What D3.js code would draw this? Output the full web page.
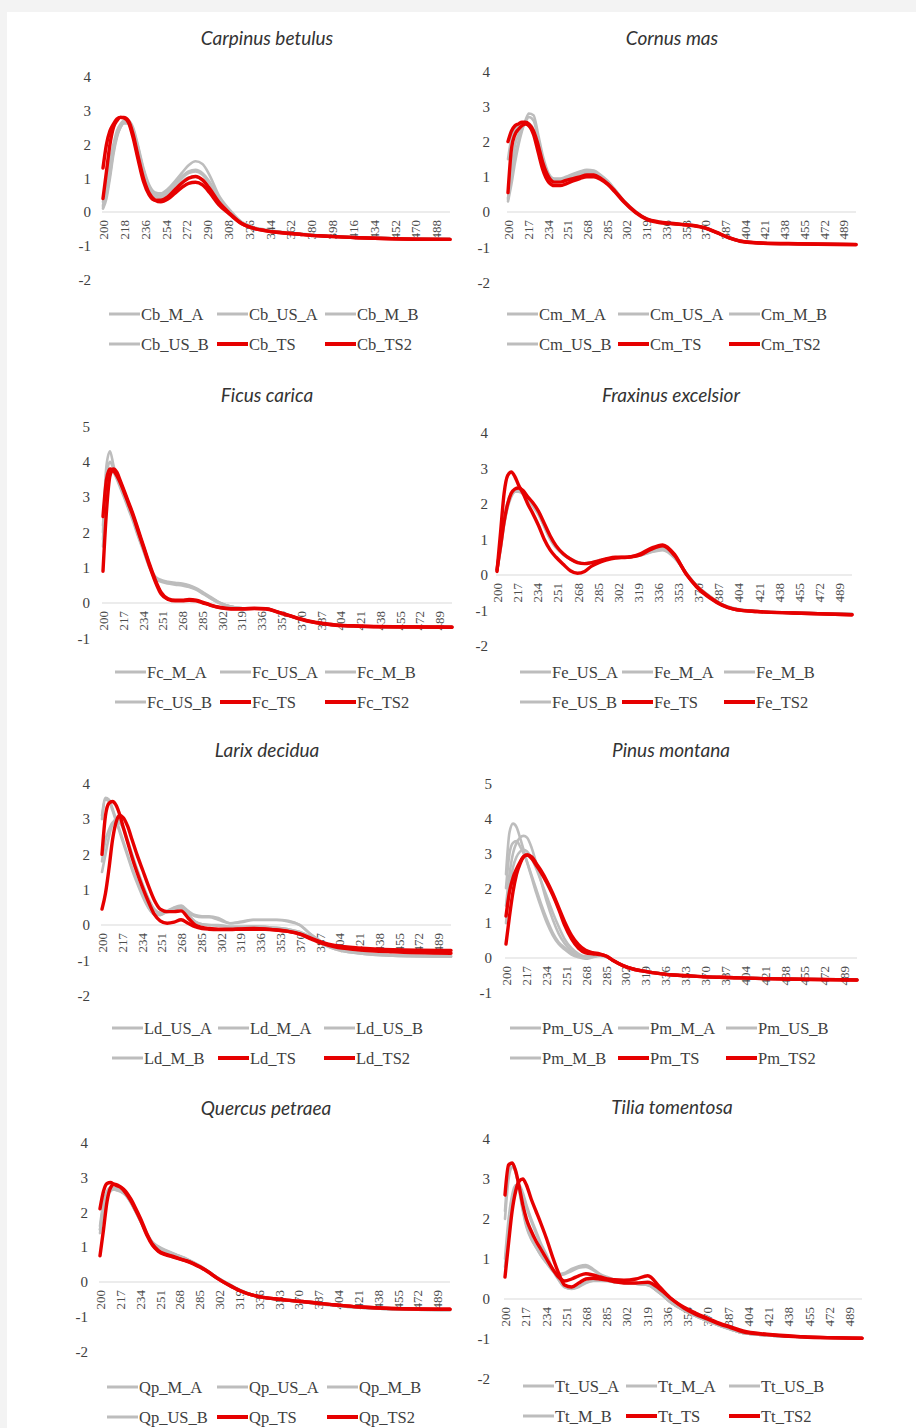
<!DOCTYPE html>
<html>
<head>
<meta charset="utf-8">
<script src="https://cdn.jsdelivr.net/npm/d3@7"></script>
<style>
  body { margin: 0; background: #f3f3f3; }
  svg { display: block; }
</style>
</head>
<body>
<svg id="chart" width="916" height="1428"></svg>
<script>
// sampled wavelengths (nm) shared by all spectra
const wavelengths = [200, 203, 206, 209, 212, 215, 218, 222, 226, 230, 235, 240, 245, 250, 256, 262, 268, 274, 280, 286, 292, 300, 310, 320, 330, 340, 350, 360, 370, 380, 390, 400, 420, 450, 500];

// Carpinus betulus
const Cb_M_A = [0.1, 0.4, 1.0, 1.7, 2.2, 2.5, 2.65, 2.7, 2.5, 2.0, 1.3, 0.8, 0.58, 0.55, 0.68, 0.9, 1.15, 1.38, 1.5, 1.42, 1.1, 0.5, 0.05, -0.3, -0.45, -0.52, -0.57, -0.61, -0.64, -0.67, -0.7, -0.72, -0.75, -0.78, -0.8];
const Cb_US_A = [0.2, 0.6, 1.3, 1.9, 2.3, 2.55, 2.68, 2.65, 2.4, 1.9, 1.2, 0.7, 0.5, 0.48, 0.6, 0.8, 1.0, 1.15, 1.2, 1.1, 0.85, 0.4, 0.0, -0.32, -0.46, -0.53, -0.58, -0.62, -0.65, -0.68, -0.7, -0.72, -0.75, -0.78, -0.8];
const Cb_M_B = [0.15, 0.5, 1.1, 1.8, 2.25, 2.5, 2.62, 2.62, 2.45, 1.95, 1.25, 0.75, 0.55, 0.52, 0.62, 0.85, 1.05, 1.2, 1.25, 1.15, 0.9, 0.42, 0.02, -0.31, -0.46, -0.53, -0.58, -0.62, -0.65, -0.68, -0.7, -0.72, -0.75, -0.78, -0.8];
const Cb_US_B = [0.3, 0.8, 1.5, 2.0, 2.4, 2.6, 2.7, 2.65, 2.35, 1.85, 1.15, 0.65, 0.45, 0.42, 0.52, 0.7, 0.9, 1.02, 1.05, 0.95, 0.72, 0.3, -0.05, -0.33, -0.47, -0.54, -0.59, -0.62, -0.65, -0.68, -0.7, -0.72, -0.75, -0.78, -0.8];
const Cb_TS = [1.3, 2.0, 2.4, 2.6, 2.75, 2.8, 2.78, 2.65, 2.2, 1.6, 0.9, 0.5, 0.35, 0.35, 0.45, 0.65, 0.85, 1.0, 1.05, 0.95, 0.7, 0.3, -0.05, -0.34, -0.48, -0.55, -0.6, -0.63, -0.66, -0.69, -0.71, -0.73, -0.76, -0.79, -0.81];
const Cb_TS2 = [0.4, 1.2, 2.0, 2.5, 2.7, 2.8, 2.8, 2.7, 2.3, 1.7, 1.0, 0.55, 0.35, 0.3, 0.38, 0.55, 0.72, 0.85, 0.88, 0.8, 0.58, 0.22, -0.08, -0.35, -0.48, -0.55, -0.6, -0.63, -0.66, -0.69, -0.71, -0.73, -0.76, -0.79, -0.81];

// Cornus mas
const Cm_M_A = [0.3, 0.8, 1.4, 1.9, 2.3, 2.6, 2.8, 2.75, 2.2, 1.6, 1.1, 0.95, 0.95, 1.0, 1.08, 1.15, 1.2, 1.18, 1.05, 0.88, 0.65, 0.32, 0.02, -0.2, -0.28, -0.32, -0.35, -0.38, -0.45, -0.58, -0.72, -0.82, -0.88, -0.9, -0.92];
const Cm_US_A = [0.35, 1.2, 1.9, 2.2, 2.4, 2.5, 2.5, 2.35, 1.9, 1.4, 1.0, 0.9, 0.9, 0.95, 1.02, 1.08, 1.12, 1.1, 1.0, 0.82, 0.62, 0.3, 0.0, -0.2, -0.28, -0.32, -0.35, -0.38, -0.45, -0.58, -0.72, -0.82, -0.88, -0.9, -0.92];
const Cm_M_B = [0.4, 1.0, 1.6, 2.0, 2.35, 2.55, 2.7, 2.6, 2.1, 1.5, 1.05, 0.92, 0.92, 0.98, 1.05, 1.1, 1.15, 1.12, 1.0, 0.85, 0.62, 0.3, 0.0, -0.21, -0.29, -0.33, -0.36, -0.39, -0.46, -0.59, -0.73, -0.83, -0.88, -0.9, -0.92];
const Cm_US_B = [1.5, 2.1, 2.35, 2.45, 2.5, 2.5, 2.45, 2.25, 1.8, 1.3, 0.95, 0.85, 0.87, 0.92, 1.0, 1.05, 1.1, 1.08, 0.98, 0.8, 0.6, 0.3, -0.01, -0.21, -0.29, -0.33, -0.36, -0.39, -0.46, -0.59, -0.73, -0.83, -0.89, -0.91, -0.93];
const Cm_TS = [2.0, 2.3, 2.45, 2.5, 2.55, 2.55, 2.5, 2.3, 1.9, 1.4, 1.0, 0.85, 0.85, 0.9, 0.95, 1.0, 1.05, 1.05, 0.95, 0.8, 0.6, 0.3, 0.0, -0.2, -0.28, -0.32, -0.35, -0.38, -0.45, -0.58, -0.72, -0.82, -0.88, -0.9, -0.92];
const Cm_TS2 = [0.55, 1.8, 2.2, 2.35, 2.45, 2.5, 2.45, 2.2, 1.7, 1.2, 0.85, 0.75, 0.75, 0.8, 0.88, 0.95, 1.0, 1.0, 0.92, 0.78, 0.58, 0.28, -0.02, -0.22, -0.3, -0.33, -0.36, -0.39, -0.46, -0.59, -0.73, -0.83, -0.89, -0.91, -0.93];

// Ficus carica
const Fc_M_A = [2.0, 3.9, 4.3, 3.9, 3.55, 3.3, 3.05, 2.7, 2.35, 1.95, 1.5, 1.05, 0.75, 0.65, 0.6, 0.57, 0.55, 0.5, 0.42, 0.3, 0.18, 0.02, -0.1, -0.15, -0.15, -0.16, -0.25, -0.35, -0.45, -0.53, -0.58, -0.62, -0.65, -0.67, -0.68];
const Fc_US_A = [1.8, 3.3, 3.8, 3.7, 3.5, 3.25, 3.0, 2.65, 2.3, 1.9, 1.45, 1.0, 0.7, 0.62, 0.57, 0.54, 0.52, 0.47, 0.4, 0.28, 0.15, 0.0, -0.11, -0.15, -0.15, -0.16, -0.25, -0.35, -0.45, -0.53, -0.58, -0.62, -0.65, -0.67, -0.68];
const Fc_M_B = [2.2, 3.6, 4.0, 3.8, 3.55, 3.3, 3.05, 2.7, 2.35, 1.95, 1.5, 1.05, 0.72, 0.63, 0.58, 0.55, 0.53, 0.48, 0.4, 0.28, 0.16, 0.01, -0.1, -0.15, -0.15, -0.16, -0.26, -0.36, -0.46, -0.54, -0.59, -0.63, -0.66, -0.68, -0.69];
const Fc_US_B = [1.6, 3.0, 3.7, 3.75, 3.55, 3.3, 3.05, 2.7, 2.35, 1.95, 1.5, 1.02, 0.68, 0.6, 0.55, 0.52, 0.5, 0.45, 0.38, 0.26, 0.14, 0.0, -0.11, -0.15, -0.15, -0.16, -0.26, -0.36, -0.46, -0.54, -0.59, -0.63, -0.66, -0.68, -0.69];
const Fc_TS = [0.9, 2.6, 3.6, 3.8, 3.7, 3.45, 3.2, 2.85, 2.5, 2.1, 1.6, 1.1, 0.65, 0.3, 0.12, 0.08, 0.08, 0.1, 0.08, 0.02, -0.05, -0.12, -0.16, -0.16, -0.15, -0.16, -0.25, -0.35, -0.45, -0.53, -0.58, -0.62, -0.65, -0.67, -0.68];
const Fc_TS2 = [2.45, 3.5, 3.8, 3.75, 3.6, 3.4, 3.15, 2.8, 2.45, 2.05, 1.55, 1.05, 0.6, 0.25, 0.1, 0.06, 0.06, 0.08, 0.06, 0.0, -0.06, -0.13, -0.17, -0.17, -0.16, -0.17, -0.26, -0.36, -0.46, -0.54, -0.59, -0.63, -0.66, -0.68, -0.69];

// Fraxinus excelsior
const Fe_US_A = [0.1, 0.7, 1.4, 1.9, 2.2, 2.35, 2.38, 2.32, 2.15, 2.0, 1.75, 1.4, 1.05, 0.8, 0.6, 0.46, 0.37, 0.33, 0.36, 0.4, 0.45, 0.48, 0.5, 0.55, 0.65, 0.72, 0.52, 0.05, -0.35, -0.62, -0.83, -0.95, -1.02, -1.06, -1.1];
const Fe_M_A = [0.12, 0.9, 1.6, 2.05, 2.3, 2.38, 2.4, 2.32, 2.15, 1.98, 1.72, 1.38, 1.03, 0.78, 0.58, 0.45, 0.36, 0.32, 0.35, 0.4, 0.45, 0.49, 0.5, 0.55, 0.66, 0.72, 0.5, 0.05, -0.33, -0.6, -0.82, -0.94, -1.02, -1.06, -1.1];
const Fe_M_B = [0.1, 0.8, 1.5, 1.95, 2.25, 2.35, 2.35, 2.28, 2.12, 1.95, 1.7, 1.35, 1.0, 0.76, 0.57, 0.44, 0.35, 0.32, 0.35, 0.4, 0.45, 0.48, 0.5, 0.54, 0.64, 0.7, 0.48, 0.04, -0.34, -0.61, -0.82, -0.94, -1.02, -1.06, -1.1];
const Fe_US_B = [0.1, 0.75, 1.45, 1.95, 2.25, 2.38, 2.42, 2.34, 2.17, 2.0, 1.76, 1.42, 1.06, 0.8, 0.6, 0.46, 0.36, 0.32, 0.35, 0.4, 0.45, 0.48, 0.5, 0.55, 0.68, 0.75, 0.52, 0.05, -0.34, -0.61, -0.83, -0.95, -1.03, -1.07, -1.1];
const Fe_TS = [0.1, 1.2, 2.3, 2.8, 2.9, 2.78, 2.55, 2.3, 2.0, 1.75, 1.4, 1.0, 0.7, 0.5, 0.3, 0.12, 0.05, 0.1, 0.25, 0.35, 0.42, 0.48, 0.5, 0.55, 0.72, 0.82, 0.55, 0.03, -0.38, -0.65, -0.85, -0.96, -1.03, -1.07, -1.12];
const Fe_TS2 = [0.15, 0.8, 1.5, 2.0, 2.3, 2.42, 2.45, 2.38, 2.2, 2.05, 1.8, 1.45, 1.1, 0.82, 0.6, 0.45, 0.35, 0.32, 0.35, 0.4, 0.45, 0.5, 0.5, 0.58, 0.75, 0.85, 0.58, 0.02, -0.36, -0.63, -0.84, -0.96, -1.03, -1.07, -1.12];

// Larix decidua
const Ld_US_A = [3.1, 3.6, 3.55, 3.3, 3.0, 2.7, 2.4, 2.0, 1.6, 1.25, 0.85, 0.5, 0.3, 0.3, 0.4, 0.5, 0.55, 0.4, 0.28, 0.25, 0.25, 0.2, 0.05, 0.1, 0.15, 0.15, 0.15, 0.12, 0.0, -0.28, -0.5, -0.65, -0.78, -0.85, -0.88];
const Ld_M_A = [1.5, 2.0, 2.5, 2.85, 3.0, 2.95, 2.8, 2.4, 2.0, 1.6, 1.15, 0.75, 0.45, 0.35, 0.38, 0.45, 0.5, 0.3, 0.1, 0.02, 0.0, 0.0, -0.05, -0.05, -0.04, -0.05, -0.08, -0.12, -0.2, -0.35, -0.55, -0.68, -0.8, -0.87, -0.9];
const Ld_US_B = [3.0, 3.55, 3.5, 3.25, 2.95, 2.65, 2.35, 1.95, 1.55, 1.2, 0.8, 0.48, 0.3, 0.28, 0.38, 0.48, 0.52, 0.35, 0.25, 0.22, 0.22, 0.15, 0.05, 0.08, 0.14, 0.14, 0.14, 0.1, 0.0, -0.28, -0.5, -0.65, -0.78, -0.85, -0.88];
const Ld_M_B = [1.8, 2.4, 2.7, 2.9, 2.95, 2.9, 2.75, 2.35, 1.95, 1.55, 1.1, 0.7, 0.42, 0.33, 0.36, 0.43, 0.48, 0.28, 0.1, 0.02, 0.0, -0.02, -0.05, -0.05, -0.04, -0.05, -0.08, -0.12, -0.2, -0.35, -0.55, -0.68, -0.8, -0.87, -0.9];
const Ld_TS = [2.0, 3.1, 3.45, 3.5, 3.4, 3.15, 2.8, 2.35, 1.9, 1.5, 1.05, 0.65, 0.3, 0.12, 0.05, 0.08, 0.15, 0.05, -0.05, -0.1, -0.12, -0.13, -0.13, -0.12, -0.12, -0.12, -0.14, -0.18, -0.25, -0.38, -0.5, -0.58, -0.65, -0.7, -0.72];
const Ld_TS2 = [0.45, 0.9, 1.6, 2.4, 2.9, 3.1, 3.05, 2.8, 2.4, 2.0, 1.55, 1.1, 0.7, 0.45, 0.38, 0.38, 0.4, 0.2, 0.0, -0.07, -0.1, -0.12, -0.12, -0.11, -0.1, -0.11, -0.14, -0.18, -0.26, -0.4, -0.53, -0.62, -0.7, -0.76, -0.8];

// Pinus montana
const Pm_US_A = [2.4, 3.6, 3.85, 3.75, 3.45, 3.1, 2.75, 2.3, 1.85, 1.45, 1.0, 0.65, 0.4, 0.25, 0.1, 0.02, -0.02, 0.02, 0.06, 0.03, -0.08, -0.22, -0.32, -0.38, -0.43, -0.47, -0.5, -0.52, -0.54, -0.55, -0.56, -0.57, -0.58, -0.6, -0.62];
const Pm_M_A = [1.5, 2.4, 3.0, 3.3, 3.45, 3.5, 3.45, 3.15, 2.7, 2.2, 1.6, 1.1, 0.7, 0.42, 0.2, 0.08, 0.02, 0.05, 0.08, 0.04, -0.08, -0.22, -0.32, -0.38, -0.43, -0.47, -0.5, -0.52, -0.54, -0.55, -0.56, -0.57, -0.58, -0.6, -0.62];
const Pm_US_B = [2.0, 3.0, 3.3, 3.35, 3.2, 3.0, 2.75, 2.35, 1.95, 1.55, 1.1, 0.72, 0.45, 0.3, 0.15, 0.05, 0.0, 0.03, 0.07, 0.03, -0.08, -0.22, -0.32, -0.38, -0.43, -0.47, -0.5, -0.52, -0.54, -0.55, -0.56, -0.57, -0.58, -0.6, -0.62];
const Pm_M_B = [1.0, 2.0, 2.6, 2.9, 3.05, 3.1, 3.05, 2.85, 2.55, 2.2, 1.75, 1.3, 0.9, 0.55, 0.28, 0.12, 0.05, 0.06, 0.09, 0.04, -0.08, -0.22, -0.32, -0.38, -0.43, -0.47, -0.5, -0.52, -0.54, -0.55, -0.56, -0.57, -0.58, -0.6, -0.62];
const Pm_TS = [1.2, 1.9, 2.3, 2.55, 2.75, 2.9, 2.95, 2.85, 2.65, 2.45, 2.15, 1.8, 1.4, 0.95, 0.55, 0.28, 0.15, 0.12, 0.1, 0.05, -0.08, -0.22, -0.33, -0.39, -0.44, -0.48, -0.5, -0.52, -0.54, -0.55, -0.56, -0.57, -0.59, -0.61, -0.63];
const Pm_TS2 = [0.4, 1.2, 1.9, 2.4, 2.7, 2.9, 2.95, 2.9, 2.7, 2.5, 2.2, 1.85, 1.45, 1.05, 0.65, 0.38, 0.22, 0.15, 0.12, 0.05, -0.08, -0.22, -0.33, -0.39, -0.44, -0.48, -0.5, -0.52, -0.54, -0.55, -0.56, -0.57, -0.59, -0.61, -0.63];

// Quercus petraea
const Qp_M_A = [1.5, 2.2, 2.55, 2.65, 2.65, 2.62, 2.58, 2.48, 2.3, 2.05, 1.72, 1.38, 1.12, 1.0, 0.9, 0.82, 0.74, 0.66, 0.56, 0.45, 0.33, 0.14, -0.05, -0.23, -0.36, -0.44, -0.49, -0.53, -0.56, -0.6, -0.64, -0.67, -0.73, -0.78, -0.8];
const Qp_US_A = [1.4, 2.0, 2.45, 2.6, 2.65, 2.63, 2.6, 2.5, 2.32, 2.08, 1.75, 1.4, 1.14, 1.02, 0.92, 0.83, 0.75, 0.67, 0.57, 0.46, 0.33, 0.14, -0.05, -0.23, -0.36, -0.44, -0.49, -0.53, -0.56, -0.6, -0.64, -0.67, -0.73, -0.78, -0.8];
const Qp_M_B = [1.6, 2.3, 2.6, 2.7, 2.7, 2.66, 2.6, 2.5, 2.32, 2.06, 1.73, 1.38, 1.12, 0.99, 0.89, 0.81, 0.74, 0.65, 0.55, 0.44, 0.32, 0.13, -0.06, -0.24, -0.36, -0.44, -0.49, -0.53, -0.56, -0.6, -0.64, -0.67, -0.73, -0.78, -0.8];
const Qp_US_B = [1.5, 2.1, 2.5, 2.65, 2.68, 2.65, 2.6, 2.5, 2.3, 2.06, 1.72, 1.37, 1.11, 0.99, 0.89, 0.81, 0.74, 0.65, 0.55, 0.44, 0.32, 0.13, -0.06, -0.24, -0.36, -0.44, -0.49, -0.53, -0.56, -0.6, -0.64, -0.67, -0.73, -0.78, -0.8];
const Qp_TS = [2.1, 2.6, 2.82, 2.85, 2.8, 2.75, 2.7, 2.55, 2.35, 2.1, 1.75, 1.35, 1.05, 0.88, 0.78, 0.72, 0.66, 0.6, 0.52, 0.42, 0.3, 0.12, -0.08, -0.25, -0.37, -0.44, -0.48, -0.52, -0.55, -0.58, -0.62, -0.65, -0.71, -0.76, -0.78];
const Qp_TS2 = [0.75, 1.5, 2.3, 2.7, 2.8, 2.78, 2.72, 2.6, 2.4, 2.15, 1.8, 1.4, 1.08, 0.9, 0.8, 0.74, 0.67, 0.61, 0.53, 0.43, 0.31, 0.12, -0.08, -0.25, -0.37, -0.44, -0.48, -0.52, -0.55, -0.58, -0.62, -0.65, -0.71, -0.76, -0.78];

// Tilia tomentosa
const Tt_US_A = [2.2, 3.2, 3.4, 3.2, 2.7, 2.2, 1.8, 1.5, 1.3, 1.1, 0.9, 0.72, 0.62, 0.65, 0.75, 0.82, 0.85, 0.75, 0.62, 0.55, 0.48, 0.42, 0.38, 0.35, 0.15, -0.1, -0.28, -0.42, -0.55, -0.66, -0.76, -0.85, -0.91, -0.95, -0.98];
const Tt_M_A = [1.0, 2.0, 2.6, 2.85, 2.85, 2.65, 2.35, 2.0, 1.7, 1.4, 1.1, 0.75, 0.5, 0.3, 0.25, 0.3, 0.4, 0.45, 0.45, 0.45, 0.42, 0.4, 0.38, 0.35, 0.15, -0.1, -0.28, -0.42, -0.55, -0.66, -0.76, -0.85, -0.91, -0.95, -0.98];
const Tt_US_B = [2.0, 3.0, 3.3, 3.15, 2.75, 2.25, 1.85, 1.52, 1.3, 1.1, 0.9, 0.7, 0.6, 0.62, 0.7, 0.78, 0.8, 0.72, 0.6, 0.53, 0.47, 0.42, 0.38, 0.35, 0.15, -0.1, -0.28, -0.42, -0.55, -0.66, -0.76, -0.85, -0.91, -0.95, -0.98];
const Tt_M_B = [0.8, 1.8, 2.5, 2.8, 2.8, 2.6, 2.3, 1.95, 1.65, 1.35, 1.05, 0.72, 0.48, 0.3, 0.26, 0.32, 0.42, 0.46, 0.46, 0.45, 0.42, 0.4, 0.38, 0.35, 0.15, -0.1, -0.28, -0.42, -0.55, -0.66, -0.76, -0.85, -0.91, -0.95, -0.98];
const Tt_TS = [2.6, 3.35, 3.4, 3.2, 2.8, 2.35, 2.0, 1.7, 1.45, 1.25, 1.0, 0.75, 0.55, 0.45, 0.5, 0.58, 0.63, 0.6, 0.55, 0.5, 0.48, 0.47, 0.5, 0.58, 0.3, 0.0, -0.2, -0.35, -0.48, -0.6, -0.7, -0.8, -0.88, -0.94, -0.98];
const Tt_TS2 = [0.55, 1.4, 2.2, 2.7, 2.95, 3.0, 2.85, 2.5, 2.2, 1.9, 1.5, 1.05, 0.65, 0.35, 0.3, 0.4, 0.5, 0.52, 0.5, 0.47, 0.43, 0.4, 0.4, 0.42, 0.25, 0.0, -0.22, -0.38, -0.5, -0.62, -0.72, -0.82, -0.89, -0.95, -0.98];

// panel contents (legend order = drawing order)
const panels = [
  { title: "Carpinus betulus", tickStep: 18, yTicks: [-2, 4],
    names: ["Cb_M_A", "Cb_US_A", "Cb_M_B", "Cb_US_B", "Cb_TS", "Cb_TS2"],
    series: [Cb_M_A, Cb_US_A, Cb_M_B, Cb_US_B, Cb_TS, Cb_TS2] },
  { title: "Cornus mas", tickStep: 17, yTicks: [-2, 4],
    names: ["Cm_M_A", "Cm_US_A", "Cm_M_B", "Cm_US_B", "Cm_TS", "Cm_TS2"],
    series: [Cm_M_A, Cm_US_A, Cm_M_B, Cm_US_B, Cm_TS, Cm_TS2] },
  { title: "Ficus carica", tickStep: 17, yTicks: [-1, 5],
    names: ["Fc_M_A", "Fc_US_A", "Fc_M_B", "Fc_US_B", "Fc_TS", "Fc_TS2"],
    series: [Fc_M_A, Fc_US_A, Fc_M_B, Fc_US_B, Fc_TS, Fc_TS2] },
  { title: "Fraxinus excelsior", tickStep: 17, yTicks: [-2, 4],
    names: ["Fe_US_A", "Fe_M_A", "Fe_M_B", "Fe_US_B", "Fe_TS", "Fe_TS2"],
    series: [Fe_US_A, Fe_M_A, Fe_M_B, Fe_US_B, Fe_TS, Fe_TS2] },
  { title: "Larix decidua", tickStep: 17, yTicks: [-2, 4],
    names: ["Ld_US_A", "Ld_M_A", "Ld_US_B", "Ld_M_B", "Ld_TS", "Ld_TS2"],
    series: [Ld_US_A, Ld_M_A, Ld_US_B, Ld_M_B, Ld_TS, Ld_TS2] },
  { title: "Pinus montana", tickStep: 17, yTicks: [-1, 5],
    names: ["Pm_US_A", "Pm_M_A", "Pm_US_B", "Pm_M_B", "Pm_TS", "Pm_TS2"],
    series: [Pm_US_A, Pm_M_A, Pm_US_B, Pm_M_B, Pm_TS, Pm_TS2] },
  { title: "Quercus petraea", tickStep: 17, yTicks: [-2, 4],
    names: ["Qp_M_A", "Qp_US_A", "Qp_M_B", "Qp_US_B", "Qp_TS", "Qp_TS2"],
    series: [Qp_M_A, Qp_US_A, Qp_M_B, Qp_US_B, Qp_TS, Qp_TS2] },
  { title: "Tilia tomentosa", tickStep: 17, yTicks: [-2, 4],
    names: ["Tt_US_A", "Tt_M_A", "Tt_US_B", "Tt_M_B", "Tt_TS", "Tt_TS2"],
    series: [Tt_US_A, Tt_M_A, Tt_US_B, Tt_M_B, Tt_TS, Tt_TS2] },
];

// where each panel sits on the page
const layout = [
  { x0: 103, x1: 450, zero: 212, unit: 33.8, ylab: 91, title: [267, 38], legend: [109, 314], colW: 108 },
  { x0: 508, x1: 856, zero: 212, unit: 35.2, ylab: 490, title: [672, 38], legend: [507, 314], colW: 111 },
  { x0: 103, x1: 452, zero: 603, unit: 35.3, ylab: 90, title: [267, 395], legend: [115, 672], colW: 105 },
  { x0: 497, x1: 852, zero: 575, unit: 35.5, ylab: 488, title: [671, 395], legend: [520, 672], colW: 102 },
  { x0: 102, x1: 451, zero: 925, unit: 35.3, ylab: 90, title: [267, 750], legend: [112, 1028], colW: 106 },
  { x0: 506, x1: 857, zero: 958, unit: 34.9, ylab: 492, title: [671, 750], legend: [510, 1028], colW: 108 },
  { x0: 100, x1: 450, zero: 1282, unit: 34.9, ylab: 88, title: [266, 1108], legend: [107, 1387], colW: 110 },
  { x0: 505, x1: 862, zero: 1299, unit: 40, ylab: 490, title: [672, 1107], legend: [523, 1386], colW: 103 },
];

const GRAY = "#bdbdbd";
const RED = "#e60000";
const SERIF = "'Liberation Serif', 'Times New Roman', serif";

const svg = d3.select("#chart");

svg.append("rect")
  .attr("x", 7).attr("y", 12)
  .attr("width", 916 - 7).attr("height", 1428 - 12)
  .attr("fill", "#ffffff");

class SpectrumPanel {
  constructor(root, panel, box) {
    this.panel = panel;
    this.box = box;
    this.g = root.append("g").attr("class", "panel");

    const [lo, hi] = panel.yTicks;
    this.xScale = d3.scaleLinear().domain([200, 500]).range([box.x0, box.x1]);
    this.yScale = d3.scaleLinear()
      .domain([lo, hi])
      .range([box.zero - lo * box.unit, box.zero - hi * box.unit]);

    this.renderTitle();
    this.renderGrid();
    this.renderYaxis();
    this.renderXaxis();
    this.renderLines();
    this.renderLegend();
  }

  isRed(i) {
    return i >= 4;
  }

  renderTitle() {
    this.g.append("text")
      .attr("x", this.box.title[0])
      .attr("y", this.box.title[1])
      .attr("dy", "0.35em")
      .attr("text-anchor", "middle")
      .attr("font-family", "Lato, 'Open Sans', sans-serif")
      .attr("font-style", "italic")
      .attr("font-size", 19)
      .attr("fill", "#333333")
      .text(this.panel.title);
  }

  renderGrid() {
    this.g.append("line")
      .attr("x1", this.box.x0 - 1)
      .attr("x2", this.box.x1)
      .attr("y1", this.yScale(0))
      .attr("y2", this.yScale(0))
      .attr("stroke", "#d9d9d9")
      .attr("stroke-width", 1);
  }

  renderYaxis() {
    const [lo, hi] = this.panel.yTicks;
    let yAxisGenerator = d3.axisLeft(this.yScale)
      .tickValues(d3.range(lo, hi + 1))
      .tickSize(0)
      .tickPadding(0)
      .tickFormat(d => String(d));
    const ax = this.g.append("g")
      .attr("transform", `translate(${this.box.ylab},0)`)
      .call(yAxisGenerator);
    ax.select(".domain").remove();
    ax.selectAll("text")
      .attr("font-family", SERIF)
      .attr("font-size", 15)
      .attr("fill", "#404040");
  }

  renderXaxis() {
    let xAxisGenerator = d3.axisBottom(this.xScale)
      .tickValues(d3.range(200, 500, this.panel.tickStep))
      .tickSize(0)
      .tickFormat(d => String(d));
    const ax = this.g.append("g")
      .attr("transform", `translate(0,${this.yScale(0)})`)
      .call(xAxisGenerator);
    ax.select(".domain").remove();
    ax.selectAll("text")
      .attr("transform", "rotate(-90)")
      .attr("text-anchor", "end")
      .attr("x", -8)
      .attr("y", 0)
      .attr("dy", "0.35em")
      .attr("font-family", SERIF)
      .attr("font-size", 13)
      .attr("fill", "#4d4d4d");
  }

  renderLines() {
    const line = d3.line()
      .x(d => this.xScale(d[0]))
      .y(d => this.yScale(d[1]))
      .curve(d3.curveMonotoneX);

    this.panel.series.forEach((values, i) => {
      const pts = wavelengths.map((w, k) => [w, values[k]]);
      this.g.append("path")
        .attr("d", line(pts))
        .attr("fill", "none")
        .attr("stroke", this.isRed(i) ? RED : GRAY)
        .attr("stroke-width", this.isRed(i) ? 3.4 : 2.6)
        .attr("stroke-linejoin", "round")
        .attr("stroke-linecap", "round");
    });
  }

  renderLegend() {
    const [lx, ly] = this.box.legend;
    const rowH = 30;
    const items = this.g.append("g").selectAll("g")
      .data(this.panel.names)
      .join("g")
      .attr("transform", (d, i) => `translate(${lx + (i % 3) * this.box.colW},${ly + Math.floor(i / 3) * rowH})`);

    items.append("line")
      .attr("x1", 0).attr("x2", 31)
      .attr("stroke", (d, i) => this.isRed(i) ? RED : GRAY)
      .attr("stroke-width", (d, i) => this.isRed(i) ? 4 : 3);

    items.append("text")
      .attr("x", 32)
      .attr("dy", "0.35em")
      .attr("font-family", SERIF)
      .attr("font-size", 16.5)
      .attr("fill", "#404040")
      .text(d => d);
  }
}

panels.forEach((p, i) => new SpectrumPanel(svg, p, layout[i]));
</script>
</body>
</html>
